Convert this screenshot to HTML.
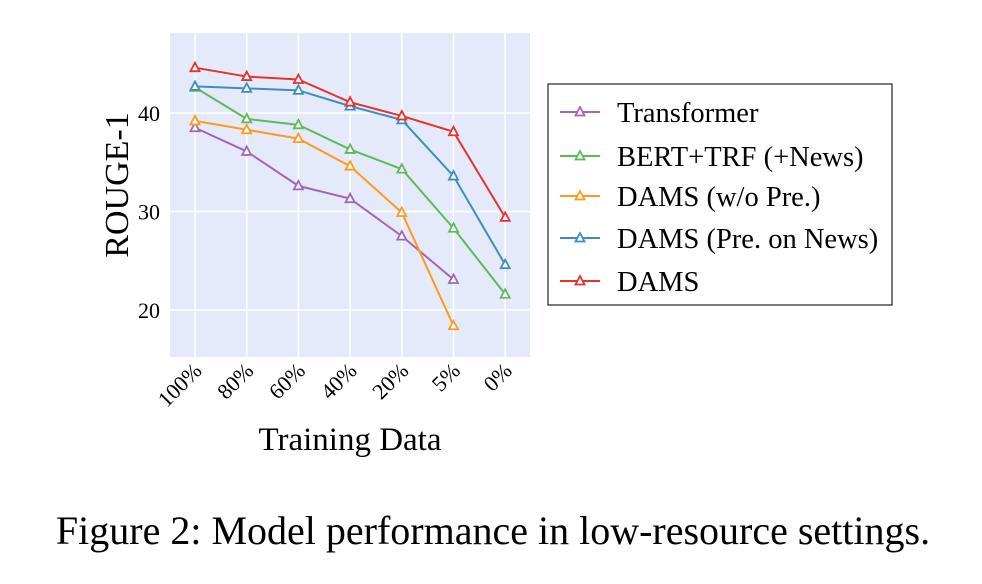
<!DOCTYPE html>
<html><head><meta charset="utf-8"><style>
body{margin:0;background:#fff;}
svg{display:block;font-family:"Liberation Serif",serif;}
</style></head><body>
<svg id="c" width="982" height="584"></svg>
<script>
const categories=["100%","80%","60%","40%","20%","5%","0%"];
const seriesNames=["Transformer","BERT+TRF (+News)","DAMS (w/o Pre.)","DAMS (Pre. on News)","DAMS"];
const transformer=[38.5,36.1,32.6,31.3,27.5,23.1];
const bertTrf=[42.6,39.4,38.8,36.3,34.3,28.3,21.6];
const damsNoPre=[39.2,38.3,37.4,34.6,29.9,18.4];
const damsPreNews=[42.7,42.5,42.3,40.7,39.3,33.6,24.6];
const dams=[44.6,43.7,43.4,41.1,39.7,38.1,29.4];
const yTicks=[20,30,40];
const colors=["#a365b8","#5fb95b","#ff9a1c","#3d8dc4","#e8322d"];
const allSeries=[transformer,bertTrf,damsNoPre,damsPreNews,dams];
const NS="http://www.w3.org/2000/svg";
const svg=document.getElementById('c');
function el(t,a,p){const e=document.createElementNS(NS,t);for(const k in a)e.setAttribute(k,a[k]);(p||svg).appendChild(e);return e;}
const X=i=>195+i*51.7;
const Y=v=>310-(v-20)*9.85;
let r=el('rect',{x:170,y:33,width:360,height:324,fill:'#e5eafb'});

yTicks.forEach(t=>{
 let g=el('line',{x1:170,x2:530,y1:Y(t),y2:Y(t),stroke:'#fff','stroke-width':1.5});
 
 let tx=el('text',{x:160,y:Y(t)+8,'font-size':22,'text-anchor':'end'});tx.textContent=t;
 
});
categories.forEach((c,i)=>{
 let g=el('line',{x1:X(i),x2:X(i),y1:33,y2:357,stroke:'#fff','stroke-width':1.5});
 
 let tx=el('text',{x:0,y:0,'font-size':22,'text-anchor':'end',transform:`translate(${X(i)+8},${372}) rotate(-45)`});tx.textContent=c;
 
});
function tri(x,y,col,p){let t=el('path',{d:`M${x},${y-5}L${x+4.5},${y+3.5}L${x-4.5},${y+3.5}Z`,fill:'#fff',stroke:col,'stroke-width':1.8},p);return t;}
allSeries.forEach((s,k)=>{
 const g=el('g',{});
 let pl=el('polyline',{points:s.map((v,i)=>X(i)+','+Y(v)).join(' '),fill:'none',stroke:colors[k],'stroke-width':2},g);
 
 s.forEach((v,i)=>{let m=tri(X(i),Y(v),colors[k],g);});
});
let yl=el('text',{x:0,y:0,'font-size':34,'text-anchor':'middle',transform:'translate(128,185) rotate(-90)'});yl.textContent='ROUGE-1';

let xl=el('text',{x:350,y:450,'font-size':33,'text-anchor':'middle'});xl.textContent='Training Data';

let lb=el('rect',{x:548,y:84,width:344,height:221,fill:'#fff',stroke:'#222','stroke-width':1.2});

const ly=[112,156,196,238,281];
seriesNames.forEach((n,k)=>{
 const g=el('g',{});
 el('line',{x1:560,x2:600,y1:ly[k],y2:ly[k],stroke:colors[k],'stroke-width':2},g);
 tri(580,ly[k],colors[k],g);
 let t=el('text',{x:617,y:ly[k]+10,'font-size':28.5},g);t.textContent=n;
});
let cap=el('text',{x:493,y:544,'font-size':40,'text-anchor':'middle'});cap.textContent='Figure 2: Model performance in low-resource settings.';

</script>
</body></html>
